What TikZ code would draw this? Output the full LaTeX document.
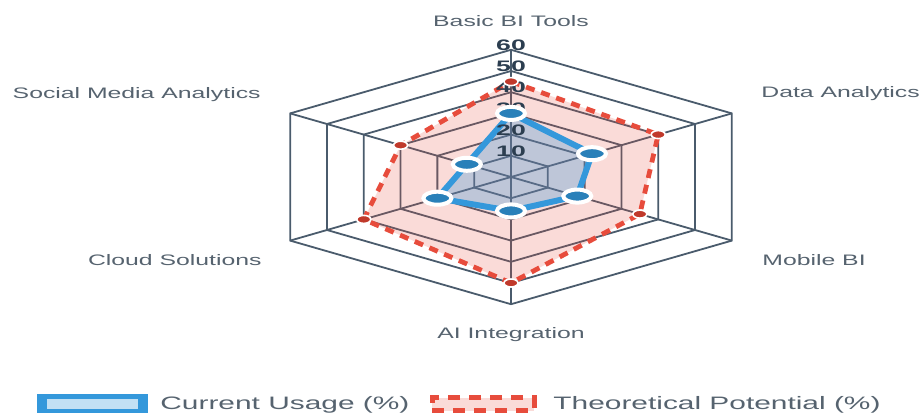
\documentclass[tikz,border=0pt]{standalone}
\usepackage{fontspec}
\setmainfont{Liberation Sans}
\usepackage{graphicx}
\usetikzlibrary{shapes.geometric,positioning}
\definecolor{gridcol}{HTML}{4A5B6C}
\definecolor{usecol}{HTML}{3498DB}
\definecolor{usedark}{HTML}{2980B9}
\definecolor{potcol}{HTML}{E74C3C}
\definecolor{potdark}{HTML}{C0392B}
\definecolor{lblcol}{HTML}{56636F}
\definecolor{tickcol}{HTML}{2C3E50}
\newcommand{\wide}[2][1.63]{\scalebox{#1}[1]{#2}}

\begin{document}
\begin{tikzpicture}[
  x=0.5pt, y=0.5pt,
  gridline/.style={draw=gridcol, line width=0.9pt},
  useline/.style={draw=usecol, line width=3pt, line join=round,
                  fill=usecol, fill opacity=0.3},
  potline/.style={draw=potcol, line width=2.4pt, dash pattern=on 4.5pt off 3.5pt,
                  fill=potcol, fill opacity=0.2},
  usemark/.style={ellipse, fill=usedark, draw=white, line width=2pt,
                  inner sep=0pt, minimum width=14pt, minimum height=6.5pt},
  potmark/.style={ellipse, fill=potdark, draw=white, line width=0.8pt,
                  inner sep=0pt, minimum width=7pt, minimum height=4pt},
  axislbl/.style={font=\fontsize{7.6}{9}\selectfont, text=lblcol, inner sep=0pt},
  ticklbl/.style={font=\bfseries\fontsize{7.6}{8}\selectfont, text=tickcol, inner sep=0pt},
  legtxt/.style={font=\fontsize{9}{11}\selectfont, text=lblcol, inner sep=0pt}
]
\useasboundingbox (0,0) rectangle (921,414);

% radar grid and data
\begin{scope}[shift={(511,237)}, x=2.125pt, y=1.06pt]
  \foreach \r in {10,20,...,60}
    \draw[gridline] (90:\r) -- (30:\r) -- (-30:\r) -- (-90:\r)
      -- (-150:\r) -- (150:\r) -- cycle;
  \foreach \a in {90,30,-30,-90,-150,150}
    \draw[gridline] (0,0) -- (\a:60);

  \foreach \a/\v [count=\i] in {90/45,30/40,-30/35,-90/50,-150/40,150/30}
    \coordinate (pot\i) at (\a:\v);
  \foreach \a/\v [count=\i] in {90/30,30/22,-30/18,-90/16,-150/20,150/12}
    \coordinate (use\i) at (\a:\v);

  \draw[potline] (pot1) -- (pot2) -- (pot3) -- (pot4) -- (pot5) -- (pot6) -- cycle;
  \draw[useline] (use1) -- (use2) -- (use3) -- (use4) -- (use5) -- (use6) -- cycle;

  \foreach \r in {10,20,...,60}
    \node[ticklbl, yshift=2.4pt] (tick\r) at (90:\r) {\wide[1.75]{\r}};

  \foreach \i in {1,...,6} {
    \node[potmark] (pm\i) at (pot\i) {};
    \node[usemark] (um\i) at (use\i) {};
  }
\end{scope}

% axis labels
\node[axislbl, anchor=base] (basic) at (511,388) {\wide{Basic BI Tools}};
\node[axislbl, anchor=base west] (data) at (761,317) {\wide{Data Analytics}};
\node[axislbl, anchor=base west] (mobile) at (762,149) {\wide{Mobile BI}};
\node[axislbl, anchor=base] (ai) at (511,76) {\wide{AI Integration}};
\node[axislbl, anchor=base east] (cloud) at (262,149) {\wide{Cloud Solutions}};
\node[axislbl, anchor=base east] (social) at (261,316) {\wide{Social Media Analytics}};

% legend
\node[fill=usecol, inner sep=0pt, minimum width=55.5pt, minimum height=9.5pt]
  (legu) at (92.5,10.5) {};
\node[fill=usecol!30, inner sep=0pt, minimum width=45.5pt, minimum height=5pt]
  (leguin) at (legu) {};
\node[legtxt, anchor=base west] (legutxt) at (160,4.5) {\wide[1.66]{Current Usage (\%)}};
\node[draw=potcol, line width=2.5pt, dash pattern=on 6pt off 4.5pt,
      fill=potcol!20, inner sep=0pt, minimum width=51pt, minimum height=6.5pt]
  (legp) at (483,10) {};
\node[legtxt, anchor=base west] (legptxt) at (553,4.5) {\wide[1.66]{Theoretical Potential (\%)}};
\end{tikzpicture}
\end{document}
